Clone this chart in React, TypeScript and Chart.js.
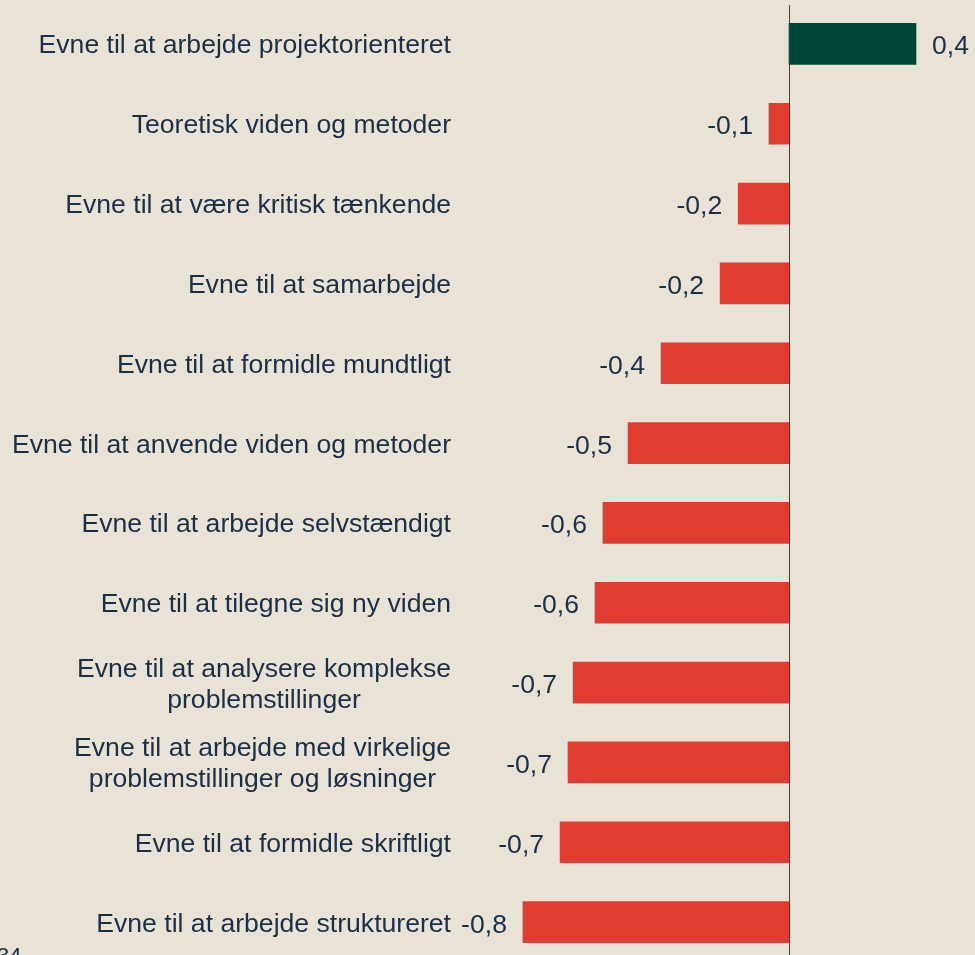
import React, { useEffect, useRef } from "react";
import { Chart, registerables } from "chart.js";

Chart.register(...registerables);

const categories: string[][] = [
  ["Evne til at arbejde projektorienteret"],
  ["Teoretisk viden og metoder"],
  ["Evne til at være kritisk tænkende"],
  ["Evne til at samarbejde"],
  ["Evne til at formidle mundtligt"],
  ["Evne til at anvende viden og metoder"],
  ["Evne til at arbejde selvstændigt"],
  ["Evne til at tilegne sig ny viden"],
  ["Evne til at analysere komplekse", "problemstillinger"],
  ["Evne til at arbejde med virkelige", "problemstillinger og løsninger"],
  ["Evne til at formidle skriftligt"],
  ["Evne til at arbejde struktureret"],
];

const values: number[] = [0.4, -0.063, -0.16, -0.217, -0.403, -0.507, -0.586, -0.611, -0.68, -0.696, -0.721, -0.838];

const valueLabels: string[] = ["0,4", "-0,1", "-0,2", "-0,2", "-0,4", "-0,5", "-0,6", "-0,6", "-0,7", "-0,7", "-0,7", "-0,8"];

const pageNumber = "34";

const BG = "#E8E2D7";
const GREEN = "#00473A";
const RED = "#E03C31";
const TEXT = "#1B2F45";
const ZERO = "#6A2C40";
const FONT = '26.6px "Liberation Sans", Arial, sans-serif';

const labelsPlugin = {
  id: "customLabels",
  beforeDraw(chart: any) {
    const { ctx, width, height } = chart;
    ctx.save();
    ctx.fillStyle = BG;
    ctx.fillRect(0, 0, width, height);
    ctx.restore();
  },
  afterDraw(chart: any) {
    const { ctx } = chart;
    const x = chart.scales.x;
    const y = chart.scales.y;
    const area = chart.chartArea;
    ctx.save();
    // zero line
    const zx = Math.round(x.getPixelForValue(0)) + 0.5;
    ctx.strokeStyle = ZERO;
    ctx.lineWidth = 1;
    ctx.beginPath();
    ctx.moveTo(zx, area.top + 1);
    ctx.lineTo(zx, chart.height);
    ctx.stroke();

    ctx.font = FONT;
    ctx.fillStyle = TEXT;
    ctx.textBaseline = "alphabetic";
    const lineH = 31;
    const rightEdge = 451;
    categories.forEach((lines, i) => {
      const cy = y.getPixelForValue(i);
      const maxW = Math.max(...lines.map((l) => ctx.measureText(l).width));
      const cx = rightEdge - maxW / 2;
      ctx.textAlign = "center";
      lines.forEach((l, j) => {
        const ly = cy + (j - (lines.length - 1) / 2) * lineH;
        ctx.fillText(l, cx, ly + 9.5);
      });
      const v = values[i];
      const bx = x.getPixelForValue(v);
      if (v >= 0) {
        ctx.textAlign = "left";
        ctx.fillText(valueLabels[i], bx + 16, cy + 10.5);
      } else {
        ctx.textAlign = "right";
        ctx.fillText(valueLabels[i], bx - 16, cy + 10.5);
      }
    });

    ctx.font = '22px "Liberation Sans", Arial, sans-serif';
    ctx.textAlign = "left";
    ctx.textBaseline = "top";
    ctx.fillText(pageNumber, -3, 946);
    ctx.restore();
  },
};

export default function App() {
  const ref = useRef<HTMLCanvasElement>(null);
  useEffect(() => {
    document.body.style.margin = "0";
    document.body.style.overflow = "hidden";
    document.body.style.background = BG;
    const canvas = ref.current!;
    const chart = new Chart(canvas, {
      type: "bar",
      data: {
        labels: categories as any,
        datasets: [
          {
            data: values,
            backgroundColor: values.map((v) => (v >= 0 ? GREEN : RED)),
            borderWidth: 0,
            barThickness: 41,
          },
        ],
      },
      options: {
        indexAxis: "y",
        responsive: false,
        animation: false,
        devicePixelRatio: 1,
        layout: { padding: { left: 460, right: 0, top: 4, bottom: 0 } },
        plugins: { legend: { display: false }, tooltip: { enabled: false } },
        scales: {
          x: {
            display: false,
            min: -1.0362,
            max: 0.5858,
            grid: { display: false },
          },
          y: {
            display: false,
            grid: { display: false },
          },
        },
      },
      plugins: [labelsPlugin],
    });
    return () => chart.destroy();
  }, []);
  return (
    <div style={{ width: 975, height: 955, overflow: "hidden", background: BG }}>
      <canvas ref={ref} width={975} height={962} style={{ display: "block" }} />
    </div>
  );
}
